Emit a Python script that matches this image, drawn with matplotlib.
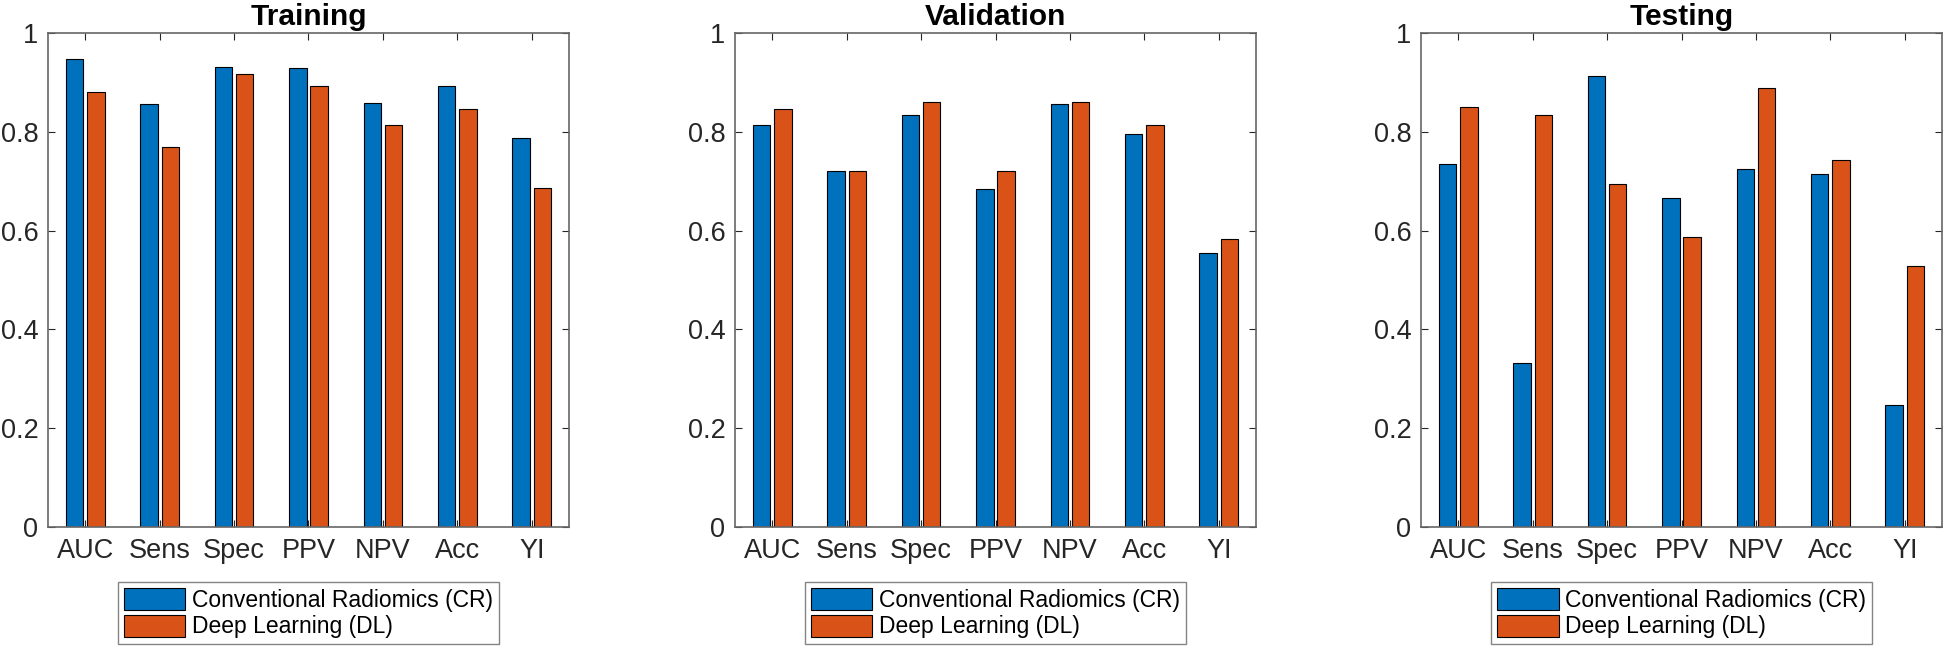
import numpy as np
import matplotlib
matplotlib.use("Agg")
import matplotlib.pyplot as plt

plt.rcParams['font.family'] = ['Liberation Sans', 'DejaVu Sans']

# data
metrics = ['AUC', 'Sens', 'Spec', 'PPV', 'NPV', 'Acc', 'YI']
panels = ['Training', 'Validation', 'Testing']

cr_training = [0.947, 0.857, 0.931, 0.930, 0.859, 0.893, 0.788]
dl_training = [0.881, 0.769, 0.917, 0.893, 0.814, 0.846, 0.686]

cr_validation = [0.814, 0.721, 0.833, 0.684, 0.857, 0.796, 0.555]
dl_validation = [0.847, 0.721, 0.861, 0.721, 0.861, 0.814, 0.583]

cr_testing = [0.735, 0.332, 0.913, 0.667, 0.724, 0.714, 0.246]
dl_testing = [0.851, 0.833, 0.695, 0.588, 0.889, 0.742, 0.528]

series_labels = ['Conventional Radiomics (CR)', 'Deep Learning (DL)']
colors = ['#0072BD', '#D95319']

cr_all = [cr_training, cr_validation, cr_testing]
dl_all = [dl_training, dl_validation, dl_testing]

fig = plt.figure(figsize=(19.46, 6.51), dpi=100)

lefts = [48 / 1946, 735 / 1946, 1421 / 1946]
w = 521 / 1946
b = 1 - 527 / 651
h = 494 / 651

x = np.arange(1, len(metrics) + 1)
bw = 0.233
off = 0.143

for i, name in enumerate(panels):
    ax = fig.add_axes([lefts[i], b, w, h])
    ax.bar(x - off, cr_all[i], bw, color=colors[0], edgecolor='black',
           linewidth=0.8, label=series_labels[0], zorder=2)
    ax.bar(x + off, dl_all[i], bw, color=colors[1], edgecolor='black',
           linewidth=0.8, label=series_labels[1], zorder=2)
    ax.set_xlim(0.5, 7.5)
    ax.set_ylim(0, 1)
    ax.set_xticks(x)
    ax.set_xticklabels(metrics)
    ax.set_yticks([0, 0.2, 0.4, 0.6, 0.8, 1])
    ax.set_yticklabels(['0', '0.2', '0.4', '0.6', '0.8', '1'])
    ax.tick_params(direction='in', top=True, right=True, length=5,
                   width=0.8, color='#262626', labelsize=19.5, labelcolor='#262626')
    ax.tick_params(axis='x', pad=8)
    ax.tick_params(axis='y', pad=7)
    for sp in ax.spines.values():
        sp.set_color('#666666')
        sp.set_linewidth(1.2)
    ax.set_title(name, fontsize=21.5, fontweight='bold', pad=6)
    leg = ax.legend(loc='upper center', bbox_to_anchor=(0.5, -0.112),
                    fontsize=16.5, frameon=True, fancybox=False,
                    handlelength=2.7, handleheight=1.1, handletextpad=0.3,
                    labelspacing=0.12, borderpad=0.25, borderaxespad=0)
    leg.get_frame().set_edgecolor('#666666')
    leg.get_frame().set_linewidth(1.0)

fig.savefig('out.png', dpi=100)
